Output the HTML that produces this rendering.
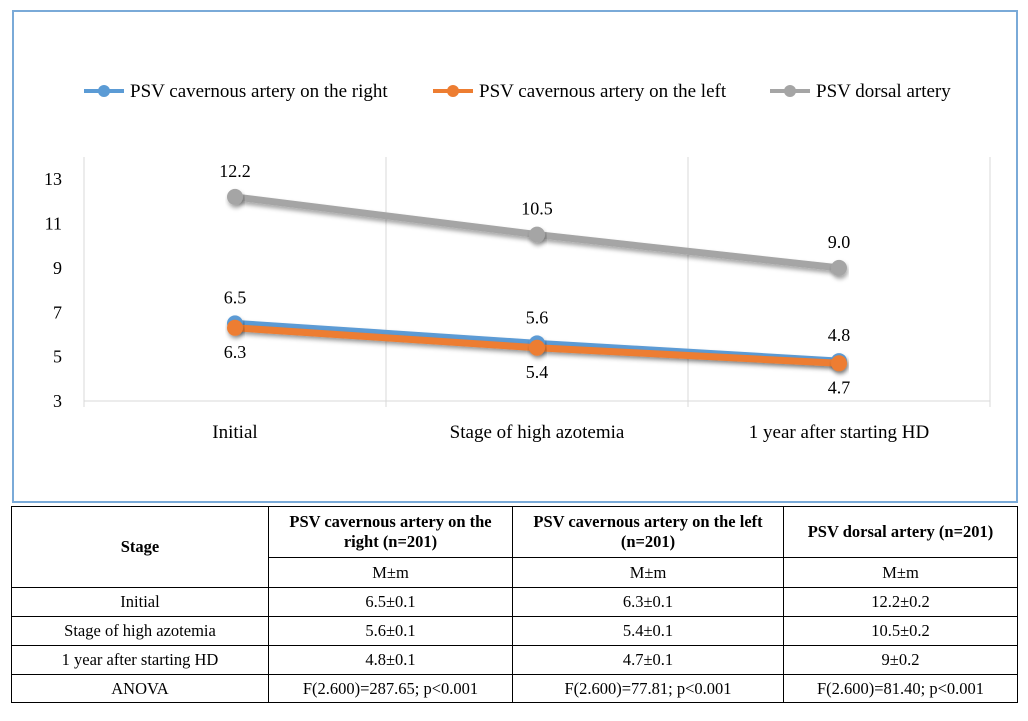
<!DOCTYPE html>
<html><head><meta charset="utf-8"><style>
body{margin:0;background:#fff;width:1028px;height:721px;position:relative;font-family:"Liberation Serif",serif;overflow:hidden}
#chart{position:absolute;left:12px;top:10px;width:1002px;height:489px;border:2px solid #7aaad8;box-sizing:content-box}
table{position:absolute;left:11px;top:506px;width:1007px;border-collapse:collapse;font-size:16.5px}
td,th{border:1px solid #000;text-align:center;padding:0 8px}
th{font-weight:bold}
</style></head><body>
<div id="chart"></div>
<svg id="svg" width="1028" height="505" style="position:absolute;left:0;top:0"></svg>
<table>
<tr style="height:51px"><th rowspan="2" style="width:240px">Stage</th><th style="width:227px">PSV cavernous artery on the right (n=201)</th><th style="width:254px">PSV cavernous artery on the left (n=201)</th><th>PSV dorsal artery (n=201)</th></tr>
<tr style="height:30px"><td>M±m</td><td>M±m</td><td>M±m</td></tr>
<tr style="height:29px"><td>Initial</td><td>6.5±0.1</td><td>6.3±0.1</td><td>12.2±0.2</td></tr>
<tr style="height:29px"><td>Stage of high azotemia</td><td>5.6±0.1</td><td>5.4±0.1</td><td>10.5±0.2</td></tr>
<tr style="height:29px"><td>1 year after starting HD</td><td>4.8±0.1</td><td>4.7±0.1</td><td>9±0.2</td></tr>
<tr style="height:28px"><td>ANOVA</td><td>F(2.600)=287.65; p&lt;0.001</td><td>F(2.600)=77.81; p&lt;0.001</td><td>F(2.600)=81.40; p&lt;0.001</td></tr>
</table>
<script>
const categories=["Initial","Stage of high azotemia","1 year after starting HD"];
const seriesNames=["PSV cavernous artery on the right","PSV cavernous artery on the left","PSV dorsal artery"];
const rightVals=[6.5,5.6,4.8];
const leftVals=[6.3,5.4,4.7];
const dorsalVals=[12.2,10.5,9.0];
const yTicks=[3,5,7,9,11,13];
const colors=["#5b9bd5","#ed7d31","#a5a5a5"];
const NS="http://www.w3.org/2000/svg";
const svg=document.getElementById('svg');
const L=84,R=990,T=157,B=401,ymin=3,ymax=14;
const y=v=>B-(v-ymin)/(ymax-ymin)*(B-T);
const bw=(R-L)/categories.length;
const x=i=>L+bw*(i+0.5);
function mk(tag,a,txt){const e=document.createElementNS(NS,tag);for(const k in a)e.setAttribute(k,a[k]);if(txt!=null)e.textContent=txt;svg.appendChild(e);return e;}
for(let i=0;i<=categories.length;i++){const g=mk('line',{x1:L+bw*i,x2:L+bw*i,y1:T,y2:B+6,stroke:'#d9d9d9'});

}
const ax=mk('line',{x1:L,x2:R,y1:B,y2:B,stroke:'#d9d9d9'});


yTicks.forEach(t=>{const e=mk('text',{x:62,y:y(t)+6,'text-anchor':'end','font-size':18},t);

});
categories.forEach((c,i)=>{const e=mk('text',{x:x(i),y:438,'text-anchor':'middle','font-size':19},c);

});
const defs=mk('defs',{});
defs.innerHTML='<filter id="sh" x="-10%" y="-50%" width="120%" height="200%"><feDropShadow dx="1" dy="3" stdDeviation="2" flood-color="#000" flood-opacity="0.35"/></filter>';
const all=[rightVals,leftVals,dorsalVals];
[2,0,1].forEach(s=>{const vals=all[s];
const p=mk('polyline',{points:vals.map((v,i)=>x(i)+','+y(v)).join(' '),fill:'none',stroke:colors[s],'stroke-width':7,filter:'url(#sh)'});


vals.forEach((v,i)=>{const c=mk('circle',{cx:x(i),cy:y(v),r:8,fill:colors[s],filter:'url(#sh)'});

});});
all.forEach((vals,s)=>vals.forEach((v,i)=>{const dy=s==1?30:-20;
const e=mk('text',{x:x(i),y:y(v)+dy,'text-anchor':'middle','font-size':18},v.toFixed(1));

}));
const lx=[84,433,770];
seriesNames.forEach((n,s)=>{mk('line',{x1:lx[s],x2:lx[s]+40,y1:91,y2:91,stroke:colors[s],'stroke-width':4});
mk('circle',{cx:lx[s]+20,cy:91,r:6,fill:colors[s]});
const e=mk('text',{x:lx[s]+46,y:97,'font-size':19},n);

});
</script>
</body></html>
